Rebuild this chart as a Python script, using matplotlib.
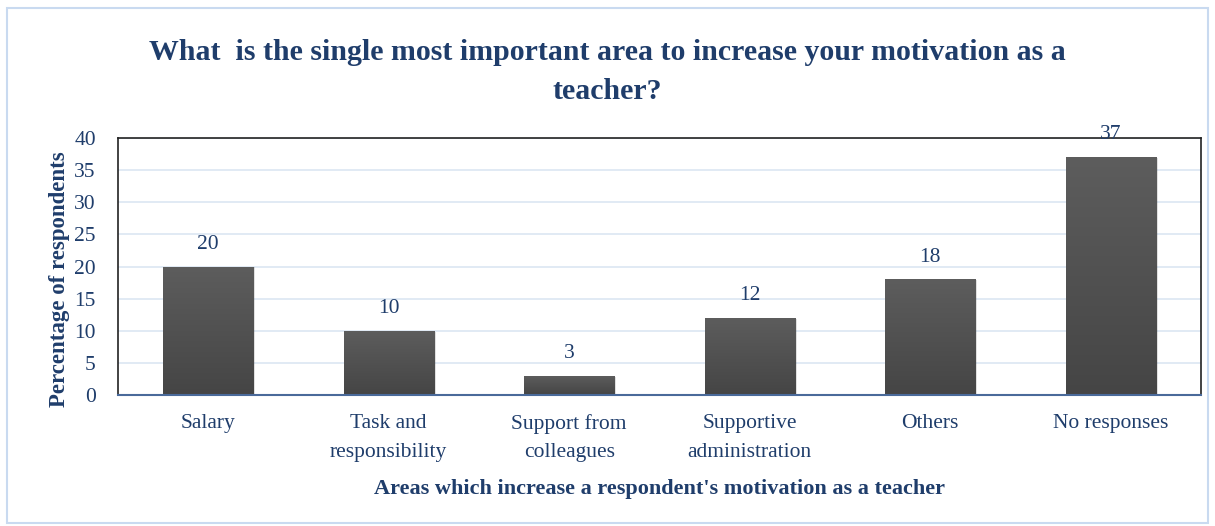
import numpy as np
import matplotlib.pyplot as plt
from matplotlib.patches import Rectangle
from matplotlib.colors import LinearSegmentedColormap

# data
categories = ["Salary", "Task and\nresponsibility", "Support from\ncolleagues",
              "Supportive\nadministration", "Others", "No responses"]
values = [20, 10, 3, 12, 18, 37]
yticks = [0, 5, 10, 15, 20, 25, 30, 35, 40]

txt = "#1f3d6b"
plt.rcParams['font.family'] = ['Liberation Serif', 'DejaVu Serif']

fig = plt.figure(figsize=(12.15, 5.26), dpi=100)
fig.patches.append(Rectangle((0.006, 0.006), 0.988, 0.978, transform=fig.transFigure,
                             fill=False, edgecolor="#c9daf0", linewidth=1.5))

ax = fig.add_axes([0.0971, 0.249, 0.8914, 0.4886])
x = np.arange(len(categories))
bars = ax.bar(x, values, width=0.5, color="#505050", zorder=2)

# gradient fill for bars
grad = np.linspace(0, 1, 256).reshape(-1, 1)
cmap = LinearSegmentedColormap.from_list("g", ["#454545", "#5d5d5d"])
for b in bars:
    b.set_facecolor("none")
    x0, w, h = b.get_x(), b.get_width(), b.get_height()
    im = ax.imshow(grad, extent=(x0, x0 + w, 0, h), origin="lower", cmap=cmap,
                   aspect="auto", zorder=2)
    im.set_clip_path(b)
    # soft shadow
    ax.add_patch(Rectangle((x0 + 0.01, 0), w, h - 0.15, facecolor="#000000", alpha=0.12,
                           edgecolor="none", zorder=1.9))

for xi, v in zip(x, values):
    ax.text(xi, v + 2.0, str(v), ha="center", va="bottom", color=txt, fontsize=15.5, zorder=3)

ax.set_xlim(-0.5, len(categories) - 0.5)
ax.set_ylim(0, 40)
ax.set_yticks(yticks)
ax.set_xticks(x)
ax.set_xticklabels(categories, fontsize=15.5, color=txt, linespacing=1.65)
ax.tick_params(axis="y", labelsize=15.5, labelcolor=txt, length=0, pad=16)
ax.tick_params(axis="x", length=0, pad=14)
ax.grid(axis="y", color="#dce6f2", linewidth=1.2, zorder=0)
ax.set_axisbelow(True)
for s in ["top", "right", "left"]:
    ax.spines[s].set_color("#222222")
    ax.spines[s].set_linewidth(1.2)
ax.spines["bottom"].set_color("#4a6a9a")
ax.spines["bottom"].set_linewidth(1.5)

ax.set_ylabel("Percentage of respondents", fontsize=16.5, fontweight="bold", color=txt)
ax.yaxis.set_label_coords(-0.044, 0.45)
ax.set_xlabel("Areas which increase a respondent's motivation as a teacher", fontsize=16,
              fontweight="bold", color=txt, labelpad=12)
fig.text(0.5, 0.925, "What  is the single most important area to increase your motivation as a\nteacher?",
         ha="center", va="top", fontsize=21.5, fontweight="bold", color=txt, linespacing=1.55)

fig.savefig("out.png", dpi=100)
